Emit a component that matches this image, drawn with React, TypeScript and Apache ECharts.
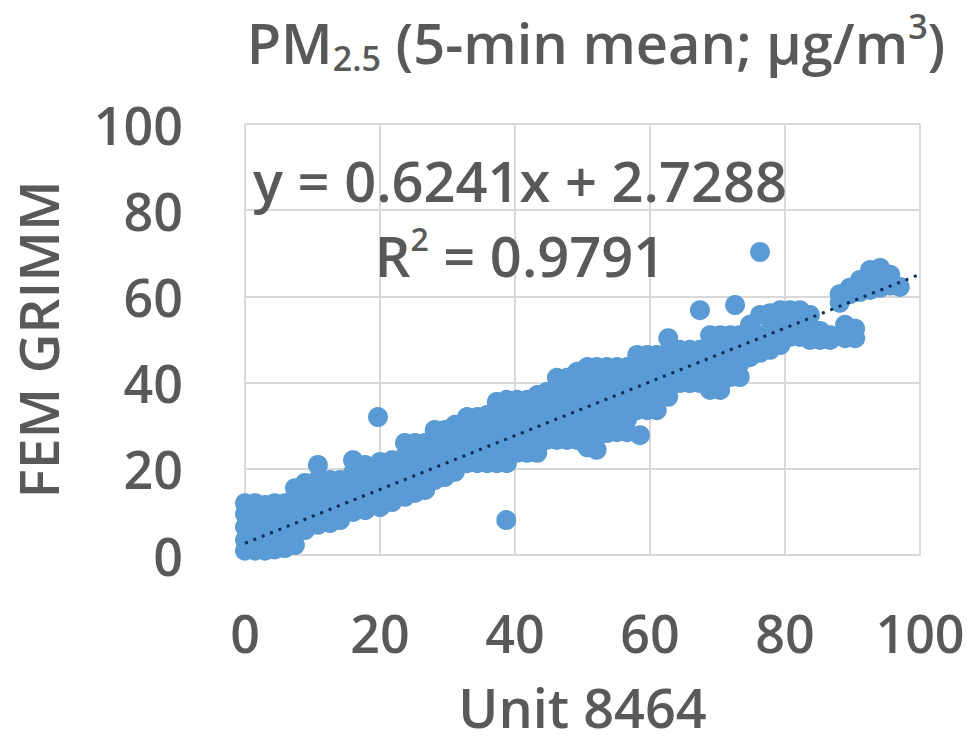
import React, { useEffect, useRef } from "react";
import * as echarts from "echarts";

// Axis ticks
const xTicks = [0, 20, 40, 60, 80, 100];
const yTicks = [0, 20, 40, 60, 80, 100];

// Trendline (linear fit shown on chart)
const slope = 0.6241;
const intercept = 2.7288;
const rSquared = 0.9791;

// Scatter band read column by column: x value and the y values stacked at that x
const columnX = [
  0.0, 1.5, 3.0, 4.4, 5.9, 7.4, 8.9, 10.8, 12.6, 14.1, 16.0, 17.8, 20.0, 21.8,
  23.7, 25.2, 26.7, 28.1, 29.6, 31.1, 32.9, 34.4, 35.9, 37.3, 38.8, 40.3, 41.8,
  43.3, 44.7, 46.2, 47.7, 49.2, 50.7, 52.1, 53.6, 55.1, 56.6, 58.1, 59.6, 61.0,
  62.7, 64.4, 65.9, 67.4, 68.9, 70.4, 71.9, 73.3, 74.8, 76.3, 77.8, 79.3, 80.7,
  82.2, 83.7, 85.2, 86.7, 88.9, 90.4, 88.1, 89.6, 91.1, 92.6, 94.1, 95.6, 97.0,
];
const columnY = [
  [1, 3.5, 6.5, 9.5, 12],
  [1, 3.5, 6.5, 9.5, 12],
  [1, 4, 7, 10, 11.6],
  [1.3, 4.5, 8, 12],
  [1.6, 5, 8.5, 12],
  [2.3, 6, 10, 13.5, 15.5],
  [5.8, 9, 12.5, 16.7],
  [7, 10.5, 14, 17.5, 20.9],
  [7.4, 11, 14.5, 17.4],
  [8.1, 11.5, 15, 17.4],
  [10, 13, 16, 19, 22],
  [10.4, 14, 17.5, 20.9],
  [11.1, 14.5, 18, 21.6],
  [12.3, 15.5, 19, 22],
  [13.5, 16.5, 19.5, 23, 26],
  [14.4, 17.5, 20.5, 23.5, 26],
  [15.1, 18, 21, 23.5, 26],
  [17.4, 20.5, 23.5, 26.5, 29],
  [18.1, 21, 24, 26.5, 29],
  [19.3, 22, 25, 28, 30.2],
  [21.3, 24, 27, 30, 32],
  [21.3, 24.5, 27.5, 30, 32],
  [21.3, 24.5, 27.5, 30.5, 32.5],
  [21.3, 24.5, 27.5, 30.5, 33, 35.5],
  [21.3, 24.5, 27.5, 30.5, 33.5, 36],
  [23.7, 26.5, 29.5, 32.5, 36],
  [23.7, 26.5, 29.5, 32.5, 36],
  [23.7, 27, 30, 33.5, 37.1],
  [26.7, 29.5, 32.5, 35, 37.8],
  [26.7, 29.5, 32.5, 35.5, 38.5, 41.1],
  [26.7, 29.5, 32.5, 35.5, 38.5, 41.1],
  [26.7, 30, 33, 36, 39, 42.5],
  [25, 28, 31, 34, 37, 40, 43.6],
  [24.4, 27.5, 31, 34, 37, 40, 43.6],
  [28.3, 31.5, 34.5, 37.5, 40.5, 43.6],
  [28.5, 31.5, 34.5, 37.5, 40.5, 43.6],
  [28.5, 31.5, 34.5, 37.5, 40.5, 43.6],
  [33.6, 36.5, 39.5, 43, 46.4],
  [33.6, 36.5, 39.5, 43, 46.4],
  [33.6, 36.5, 39.5, 43, 46.4],
  [36.7, 40, 43.5, 47, 50.3],
  [39.9, 43.5, 47.6],
  [39.9, 43.5, 47.6],
  [39.9, 43.5, 47.6],
  [38.3, 41.5, 44.5, 48, 51],
  [38.3, 41.5, 44.5, 48, 51],
  [41.3, 44.5, 48, 51],
  [41.3, 44.5, 48, 51],
  [45.9, 49.5, 53.4],
  [46.9, 51, 55.7],
  [47.6, 52, 56.1],
  [48.7, 52.5, 56.8],
  [50.6, 53.5, 56.8],
  [50.6, 53.5, 56.8],
  [49.9, 53, 55.7],
  [49.9, 52],
  [49.9, 51],
  [50.3, 53.4],
  [50.3, 52.5],
  [58.5, 60.5],
  [60.5, 62],
  [61, 63.8],
  [61.5, 64, 66.1],
  [62, 64.5, 66.6],
  [62.5, 65],
  [62.2],
];

// Isolated points away from the band
const outliers: [number, number][] = [
  [19.7, 32.0],
  [38.7, 8.1],
  [58.5, 27.8],
  [67.4, 56.8],
  [72.6, 58.0],
  [76.3, 70.3],
];

const TEXT = "#595959";
const FONT = "'Open Sans', 'Noto Sans', sans-serif";

export default function App() {
  const ref = useRef<HTMLDivElement>(null);

  useEffect(() => {
    if (!ref.current) return;
    const chart = echarts.init(ref.current, undefined, { renderer: "svg" });

    const points: [number, number][] = [];
    columnX.forEach((x, i) => {
      columnY[i].forEach((y) => points.push([x, y]));
    });
    outliers.forEach((p) => points.push(p));

    const xMin = xTicks[0];
    const xMax = xTicks[xTicks.length - 1];
    const trend: [number, number][] = [
      [xMin, slope * xMin + intercept],
      [xMax, slope * xMax + intercept],
    ];

    const labelStyle = {
      color: TEXT,
      fontSize: 52,
      fontFamily: FONT,
      fontWeight: 600 as any,
    };

    chart.setOption({
      animation: false,
      backgroundColor: "#ffffff",
      grid: { left: 245, right: 51, top: 124, bottom: 193 },
      xAxis: {
        type: "value",
        min: xMin,
        max: xMax,
        interval: 20,
        name: "Unit 8464",
        nameLocation: "middle",
        nameGap: 124,
        nameTextStyle: { ...labelStyle, fontSize: 54, lineHeight: 56 },
        axisLine: { show: true, lineStyle: { color: "#d9d9d9", width: 2 } },
        axisTick: { show: false },
        axisLabel: { ...labelStyle, margin: 51 },
        splitLine: { show: true, lineStyle: { color: "#d9d9d9", width: 2 } },
      },
      yAxis: {
        type: "value",
        min: yTicks[0],
        max: yTicks[yTicks.length - 1],
        interval: 20,
        name: "FEM GRIMM",
        nameLocation: "middle",
        nameGap: 180,
        nameTextStyle: { ...labelStyle, fontSize: 55, lineHeight: 56 },
        axisLine: { show: false },
        axisTick: { show: false },
        axisLabel: { ...labelStyle, margin: 62 },
        splitLine: { show: true, lineStyle: { color: "#d9d9d9", width: 2 } },
      },
      graphic: [
        {
          type: "text",
          x: 596,
          y: 42,
          style: {
            text: "{a|PM}{sub|2.5}{a| (5-min mean; μg/m}{sup|3}{a|)}",
            align: "center",
            verticalAlign: "middle",
            fill: TEXT,
            rich: {
              a: { fontSize: 56, lineHeight: 66, fontFamily: FONT, fontWeight: 600, fill: TEXT, color: TEXT },
              sub: { fontSize: 34, lineHeight: 34, verticalAlign: "bottom", fontFamily: FONT, fontWeight: 600, fill: TEXT, color: TEXT },
              sup: { fontSize: 34, lineHeight: 38, verticalAlign: "top", fontFamily: FONT, fontWeight: 600, fill: TEXT, color: TEXT },
            },
          },
          z: 10,
        },
        {
          type: "text",
          x: 520,
          y: 180,
          style: {
            text: `y = ${slope}x + ${intercept}`,
            align: "center",
            verticalAlign: "middle",
            fill: TEXT,
            fontSize: 56,
            fontFamily: FONT,
            fontWeight: 600,
          },
          z: 10,
        },
        {
          type: "text",
          x: 520,
          y: 255,
          style: {
            text: `{a|R}{sup|2}{a| = ${rSquared}}`,
            align: "center",
            verticalAlign: "middle",
            fill: TEXT,
            rich: {
              a: { fontSize: 56, lineHeight: 66, fontFamily: FONT, fontWeight: 600, fill: TEXT, color: TEXT },
              sup: { fontSize: 32, lineHeight: 38, verticalAlign: "top", fontFamily: FONT, fontWeight: 600, fill: TEXT, color: TEXT },
            },
          },
          z: 10,
        },
      ],
      series: [
        {
          type: "scatter",
          data: points,
          symbol: "circle",
          symbolSize: 20,
          itemStyle: { color: "#5B9BD5", opacity: 1 },
          z: 2,
        },
        {
          type: "line",
          data: trend,
          symbol: "none",
          showSymbol: false,
          lineStyle: { color: "#0b2d5a", width: 3, type: [3, 6] },
          z: 3,
        },
      ],
    });

    return () => chart.dispose();
  }, []);

  return (
    <div
      ref={ref}
      style={{ position: "fixed", left: 0, top: 0, width: 971, height: 748, background: "#fff" }}
    />
  );
}
